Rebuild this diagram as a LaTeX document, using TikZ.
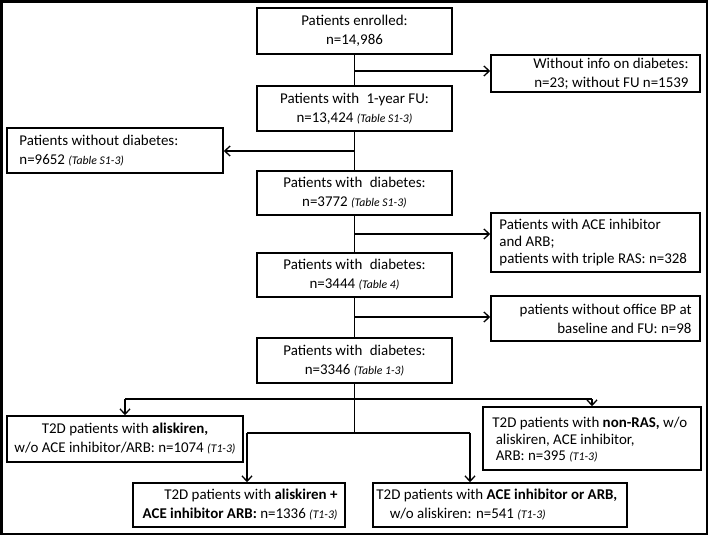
\documentclass[tikz,border=0pt]{standalone}
\usepackage{fontspec}
\setmainfont{Carlito}
\usetikzlibrary{arrows.meta}
\tikzset{
  frame/.style={draw, line width=1.2pt, inner sep=0pt, anchor=center},
  txt/.style={inner sep=0pt, font=\fontsize{11.2}{14.25}\selectfont},
  conn/.style={line width=1pt},
  arr/.style={conn, -{Straight Barb[length=4pt,width=7.5pt]}},
}
\newcommand{\tbl}[1]{{\fontsize{8.8}{10}\selectfont\itshape #1}}
\newcommand{\dsp}{\hspace{0.5em}}
\begin{document}
\begin{tikzpicture}[x=0.75pt,y=-0.75pt]
\useasboundingbox (0,0) rectangle (709,536);
\draw[line width=1.6pt] (1.5,1.5) rectangle (707.3,534.3);

% centre column
\node[frame, minimum width=146.25pt, minimum height=34.5pt] (enr) at (354.5,31) {};
\node[txt, align=center] (enrT) at (enr.center) {Patients enrolled:\\ n=14,986};
\node[frame, minimum width=146.25pt, minimum height=33.75pt] (fu) at (354.5,108.5) {};
\node[txt, align=center] (fuT) at (fu.center) {Patients with\dsp 1-year FU:\\ n=13,424 \tbl{(Table S1-3)}};
\node[frame, minimum width=146.25pt, minimum height=33pt] (d3772) at (354.5,193) {};
\node[txt, align=center] (d3772T) at (d3772.center) {Patients with\dsp diabetes:\\ n=3772 \tbl{(Table S1-3)}};
\node[frame, minimum width=146.25pt, minimum height=33pt] (d3444) at (354.5,275) {};
\node[txt, align=center] (d3444T) at (d3444.center) {Patients with\dsp diabetes:\\ n=3444 \tbl{(Table 4)}};
\node[frame, minimum width=146.25pt, minimum height=33.75pt] (d3346) at (354.5,360.5) {};
\node[txt, align=center] (d3346T) at (d3346.center) {Patients with\dsp diabetes:\\ n=3346 \tbl{(Table 1-3)}};

% side boxes
\node[frame, minimum width=156.75pt, minimum height=27.75pt] (info) at (595.5,73.5) {};
\node[txt, align=right, anchor=east] (infoT) at ([xshift=-9pt]info.east) {Without info on diabetes:\\ n=23; without FU n=1539};
\node[frame, minimum width=162pt, minimum height=33.75pt] (nodiab) at (115,150.5) {};
\node[txt, align=left, anchor=west] (nodiabT) at ([xshift=9.75pt]nodiab.west) {Patients without diabetes:\\ n=9652 \tbl{(Table S1-3)}};
\node[frame, minimum width=156.75pt, minimum height=44.25pt] (ace) at (595.5,242.5) {};
\node[txt, align=left, anchor=west, font=\fontsize{11.2}{12.75}\selectfont] (aceT) at ([xshift=6.75pt]ace.west)
  {Patients with ACE inhibitor\\ and ARB;\\ patients with triple RAS: n=328};
\node[frame, minimum width=156.75pt, minimum height=33.75pt] (office) at (595.5,318.5) {};
\node[txt, align=right, anchor=east] (officeT) at ([xshift=-6.75pt]office.east) {patients without office BP at\\ baseline and FU: n=98};

% bottom boxes
\node[frame, minimum width=177pt, minimum height=34.5pt] (alis) at (125,439) {};
\node[txt, align=center] (alisT) at (alis.center) {T2D patients with \textbf{aliskiren,}\\ w/o ACE inhibitor/ARB: n=1074 \tbl{(T1-3)}};
\node[frame, minimum width=163.5pt, minimum height=47.25pt] (nonras) at (592,438.5) {};
\node[txt, align=left, anchor=west, font=\fontsize{11.2}{12.5}\selectfont] (nonrasT) at ([xshift=7.5pt,yshift=-1pt]nonras.west)
  {T2D patients with \textbf{non-RAS,} w/o\\ \hspace*{2.5pt}aliskiren, ACE inhibitor,\\ \hspace*{2.5pt}ARB: n=395 \tbl{(T1-3)}};
\node[frame, minimum width=159pt, minimum height=33pt] (comb) at (239,505) {};
\node[txt, align=right, anchor=east] (combT) at ([xshift=-6pt]comb.east) {T2D patients with \textbf{aliskiren +}\\ \textbf{ACE inhibitor ARB:} n=1336 \tbl{(T1-3)}};
\node[frame, minimum width=190.5pt, minimum height=33pt] (acearb) at (500,505) {};
\node[txt, align=left, anchor=west] (acearbT) at ([xshift=3pt]acearb.west) {T2D patients with \textbf{ACE inhibitor or ARB,}\\ \hspace*{10pt}w/o aliskiren: n=541 \tbl{(T1-3)}};

% connectors
\coordinate (j1) at (354.5,71);
\coordinate (j2) at (354.5,151);
\coordinate (j3) at (354.5,234);
\coordinate (j4) at (354.5,317);
\draw[conn] (enr.south) -- (fu.north);
\draw[arr] (j1) -- (j1 -| info.west);
\draw[conn] (fu.south) -- (d3772.north);
\draw[arr] (j2) -- (j2 -| nodiab.east);
\draw[conn] (d3772.south) -- (d3444.north);
\draw[arr] (j3) -- (j3 -| ace.west);
\draw[conn] (d3444.south) -- (d3346.north);
\draw[arr] (j4) -- (j4 -| office.west);

\coordinate (b1) at (354.5,433);
\coordinate (hl) at (125,399);
\coordinate (hr) at (592,399);
\coordinate (bl) at (247,433);
\coordinate (br) at (470,433);
\draw[conn] (d3346.south) -- (b1);
\draw[conn] (hl) -- (hr);
\draw[arr] (hl) -- (alis.north);
\draw[arr] (hr) -- (nonras.north);
\draw[conn] (bl) -- (br);
\draw[arr] (bl) -- (bl |- comb.north);
\draw[arr] (br) -- (br |- acearb.north);
\end{tikzpicture}
\end{document}
